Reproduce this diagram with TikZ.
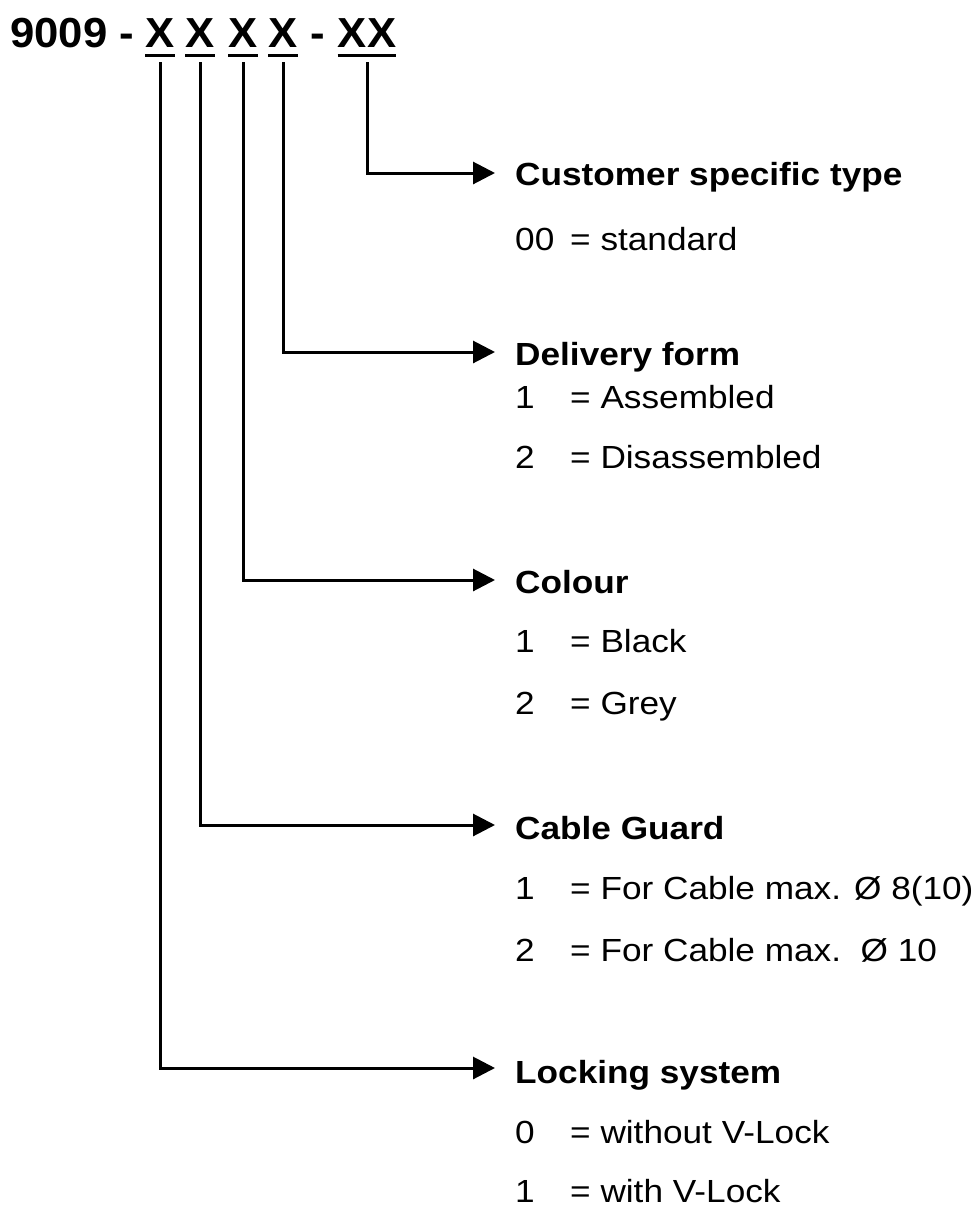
\documentclass[tikz,border=0pt]{standalone}
\usepackage{fontspec}
\setmainfont{Liberation Sans}
\usetikzlibrary{arrows.meta}
\newcommand{\wide}[1]{\scalebox{1.1}[1]{#1}}
\newcommand{\widehdr}[1]{\scalebox{1.04}[1]{#1}}
\tikzset{
  head/.style={anchor=base west, inner sep=0pt, font=\fontsize{32}{38}\selectfont\bfseries},
  body/.style={anchor=base west, inner sep=0pt, font=\fontsize{32}{38}\selectfont},
  code/.style={anchor=base, inner sep=0pt, font=\fontsize{42}{50}\selectfont\bfseries},
  conn/.style={line width=3pt, -{Triangle[length=22pt,width=22pt]}},
  uline/.style={line width=3pt},
}
\begin{document}
\begin{tikzpicture}[x=1pt,y=-1pt]
\useasboundingbox (0,0) rectangle (977,1207);
% header code
\node[code, anchor=base west] (pre) at (10,48) {\widehdr{9009 -}};
\node[code] (x1) at (160,48) {\widehdr{X}};
\node[code] (x2) at (200,48) {\widehdr{X}};
\node[code] (x3) at (243,48) {\widehdr{X}};
\node[code] (x4) at (283,48) {\widehdr{X}};
\node[code] (dash) at (318,48) {\widehdr{-}};
\node[code] (x5) at (367,48) {\widehdr{XX}};
\foreach \n in {x1,x2,x3,x4,x5}
  \draw[uline] ([yshift=-7pt]\n.south west) -- ([yshift=-7pt]\n.south east);
% arrow targets
\coordinate (a5) at (495,173);
\coordinate (a4) at (495,352);
\coordinate (a3) at (495,580);
\coordinate (a2) at (495,825);
\coordinate (a1) at (495,1068);
\draw[conn] ([yshift=-14pt]x5.south) |- (a5);
\draw[conn] ([yshift=-14pt]x4.south) |- (a4);
\draw[conn] ([yshift=-14pt]x3.south) |- (a3);
\draw[conn] ([yshift=-14pt]x2.south) |- (a2);
\draw[conn] ([yshift=-14pt]x1.south) |- (a1);
% Customer specific type
\node[head] (h5) at (515,185) {\wide{Customer specific type}};
\node[body] (n5a) at (515,250) {\wide{00}};
\node[body] (t5a) at (570,250) {\wide{= standard}};
% Delivery form
\node[head] (h4) at (515,365) {\wide{Delivery form}};
\node[body] (n4a) at (515,408) {\wide{1}};
\node[body] (t4a) at (570,408) {\wide{= Assembled}};
\node[body] (n4b) at (515,468) {\wide{2}};
\node[body] (t4b) at (570,468) {\wide{= Disassembled}};
% Colour
\node[head] (h3) at (515,593) {\wide{Colour}};
\node[body] (n3a) at (515,652) {\wide{1}};
\node[body] (t3a) at (570,652) {\wide{= Black}};
\node[body] (n3b) at (515,714) {\wide{2}};
\node[body] (t3b) at (570,714) {\wide{= Grey}};
% Cable Guard
\node[head] (h2) at (515,839) {\wide{Cable Guard}};
\node[body] (n2a) at (515,899) {\wide{1}};
\node[body] (t2a) at (570,899) {\wide{= For Cable max. Ø 8(10)}};
\node[body] (n2b) at (515,961) {\wide{2}};
\node[body] (t2b) at (570,961) {\wide{= For Cable max.\ \ Ø 10}};
% Locking system
\node[head] (h1) at (515,1083) {\wide{Locking system}};
\node[body] (n1a) at (515,1143) {\wide{0}};
\node[body] (t1a) at (570,1143) {\wide{= without V-Lock}};
\node[body] (n1b) at (515,1202) {\wide{1}};
\node[body] (t1b) at (570,1202) {\wide{= with V-Lock}};
\end{tikzpicture}
\end{document}
